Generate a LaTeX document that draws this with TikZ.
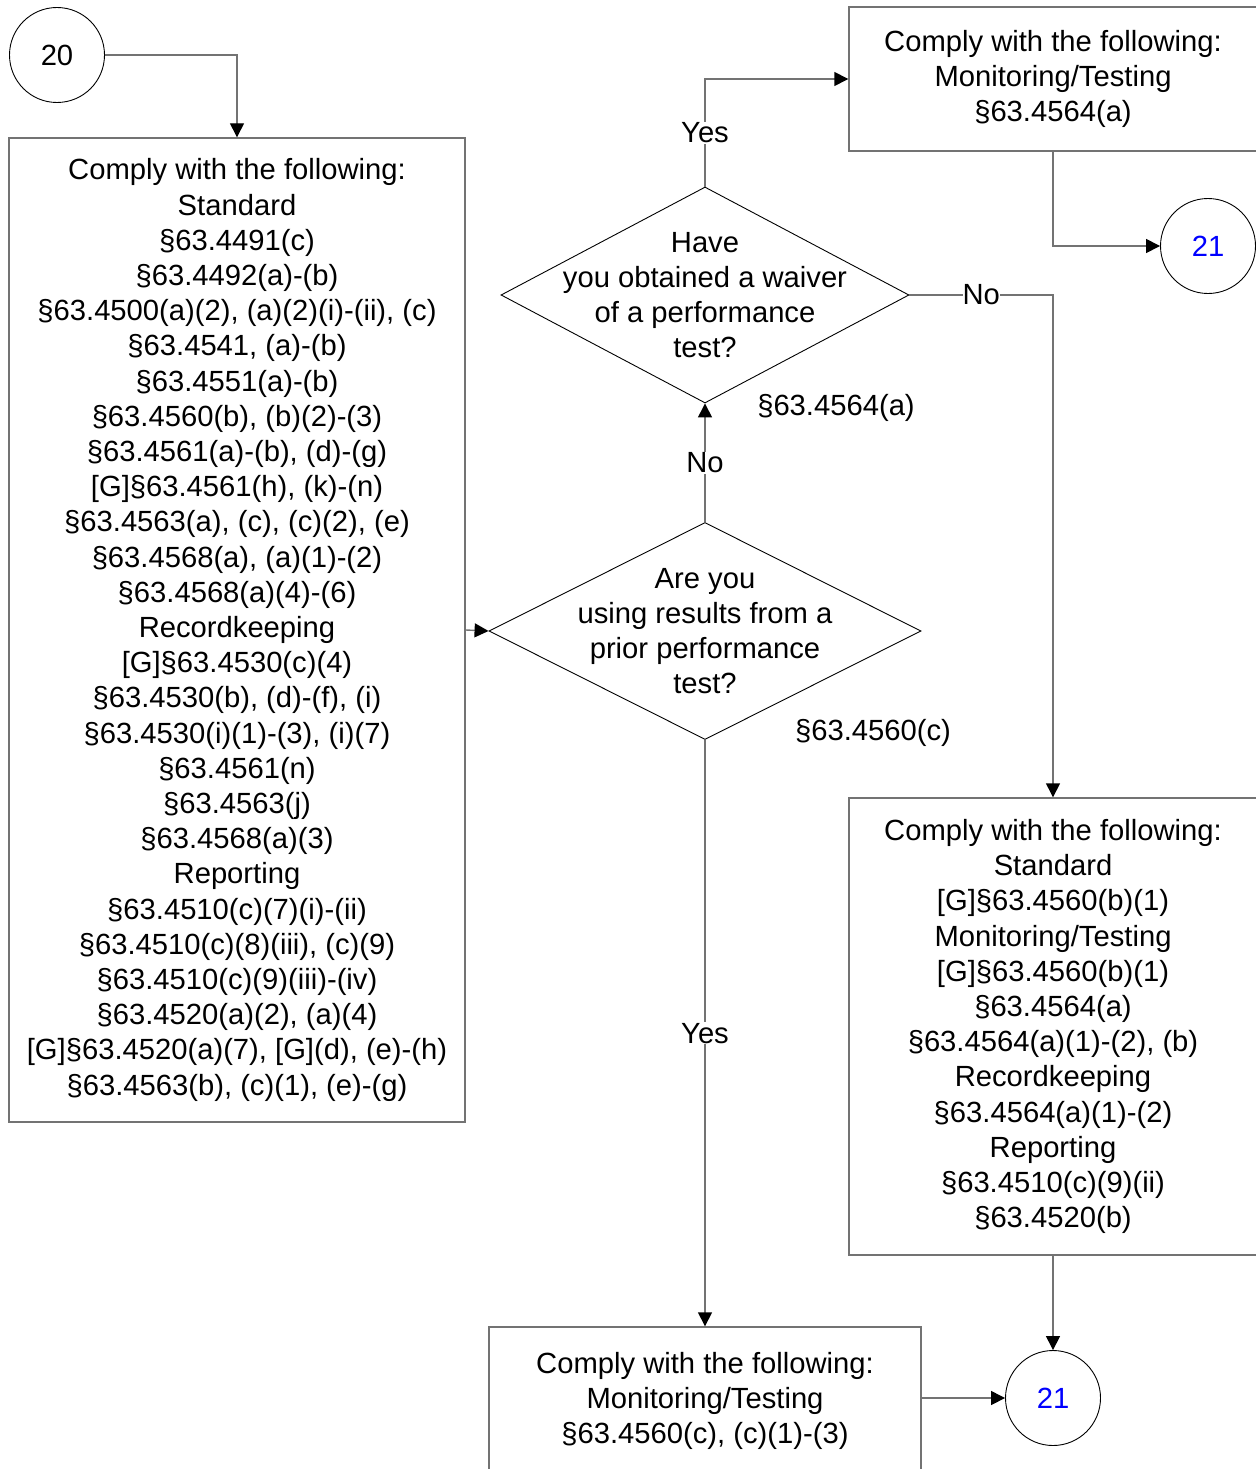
\documentclass[tikz,border=0pt]{standalone}
\usepackage{fontspec}
\setmainfont{Liberation Sans}
\usepackage{tikz}
\usetikzlibrary{arrows.meta,shapes.geometric}

\tikzset{
  stepbox/.style={draw=black!55, line width=1.4pt, align=center, inner sep=0pt},
  query/.style={diamond, draw=black, line width=0.9pt, inner sep=0pt},
  connector/.style={circle, draw=black, line width=0.9pt, inner sep=0pt, minimum size=95pt},
  flow/.style={draw=black!55, line width=1.4pt, -{Triangle[length=14pt,width=14pt,color=black]}},
  answer/.style={fill=white, inner sep=1pt}
}

\begin{document}
\begin{tikzpicture}[x=1pt, y=-1pt, font=\fontsize{29.2}{35.2}\selectfont]
\useasboundingbox (0,0) rectangle (1255,1469);

%% start and end connectors
\path
(57,55) node[connector](c20) {20}
(1208,246) node[connector, text=blue](c21top) {21}
(1053,1398) node[connector, text=blue](c21bot) {21};

%% left box
\path (237,630) node[stepbox, minimum width=456pt, minimum height=984pt](standard) {
Comply with the following:\\ Standard\\ §63.4491(c)\\ §63.4492(a)-(b)\\
§63.4500(a)(2), (a)(2)(i)-(ii), (c)\\ §63.4541, (a)-(b)\\ §63.4551(a)-(b)\\
§63.4560(b), (b)(2)-(3)\\ §63.4561(a)-(b), (d)-(g)\\ {[G]}§63.4561(h), (k)-(n)\\
§63.4563(a), (c), (c)(2), (e)\\ §63.4568(a), (a)(1)-(2)\\ §63.4568(a)(4)-(6)\\
Recordkeeping\\ {[G]}§63.4530(c)(4)\\ §63.4530(b), (d)-(f), (i)\\
§63.4530(i)(1)-(3), (i)(7)\\ §63.4561(n)\\ §63.4563(j)\\ §63.4568(a)(3)\\
Reporting\\ §63.4510(c)(7)(i)-(ii)\\ §63.4510(c)(8)(iii), (c)(9)\\
§63.4510(c)(9)(iii)-(iv)\\ §63.4520(a)(2), (a)(4)\\
{[G]}§63.4520(a)(7), [G](d), (e)-(h)\\ §63.4563(b), (c)(1), (e)-(g)};

%% the two questions
\path
(705,631) node[query, minimum width=432pt, minimum height=217pt,
  label={[align=center]center:Are you\\ using results from a\\ prior performance\\ test?}](prior) {}
(705,295) node[query, minimum width=408pt, minimum height=216pt,
  label={[align=center]center:Have\\ you obtained a waiver\\ of a performance\\ test?}](waiver) {};
\path (873,733) node(priorref) {§63.4560(c)}
      (836,408) node(waiverref) {§63.4564(a)};

%% right hand boxes
\path
(1053,79) node[stepbox, minimum width=408pt, minimum height=144pt](waived) {
Comply with the following:\\ Monitoring/Testing\\ §63.4564(a)}
(1053,1026.5) node[stepbox, minimum width=408pt, minimum height=457pt](notwaived) {
Comply with the following:\\ Standard\\ {[G]}§63.4560(b)(1)\\ Monitoring/Testing\\
{[G]}§63.4560(b)(1)\\ §63.4564(a)\\ §63.4564(a)(1)-(2), (b)\\ Recordkeeping\\
§63.4564(a)(1)-(2)\\ Reporting\\ §63.4510(c)(9)(ii)\\ §63.4520(b)}
(705,1401) node[stepbox, minimum width=432pt, minimum height=148pt](priortest) {
Comply with the following:\\ Monitoring/Testing\\ §63.4560(c), (c)(1)-(3)};

%% connectors
\draw[flow] (c20) -| (standard);
\draw[flow] (standard.east) -- (prior.west);
\draw[flow] (prior.north) -- node[answer](no1) {No} (waiver.south);
\draw[flow] (waiver.north) |- node[answer, pos=0.25](yes1) {Yes} (waived.west);
\draw[flow] (waiver.east) -| node[answer, pos=0.25, inner xsep=0pt](no2) {No} (notwaived.north);
\draw[flow] (waived.south) |- (c21top.west);
\draw[flow] (notwaived.south) -- (c21bot.north);
\draw[flow] (prior.south) -- node[answer](yes2) {Yes} (priortest.north);
\draw[flow] (priortest.east |- c21bot.west) -- (c21bot.west);

\end{tikzpicture}
\end{document}
